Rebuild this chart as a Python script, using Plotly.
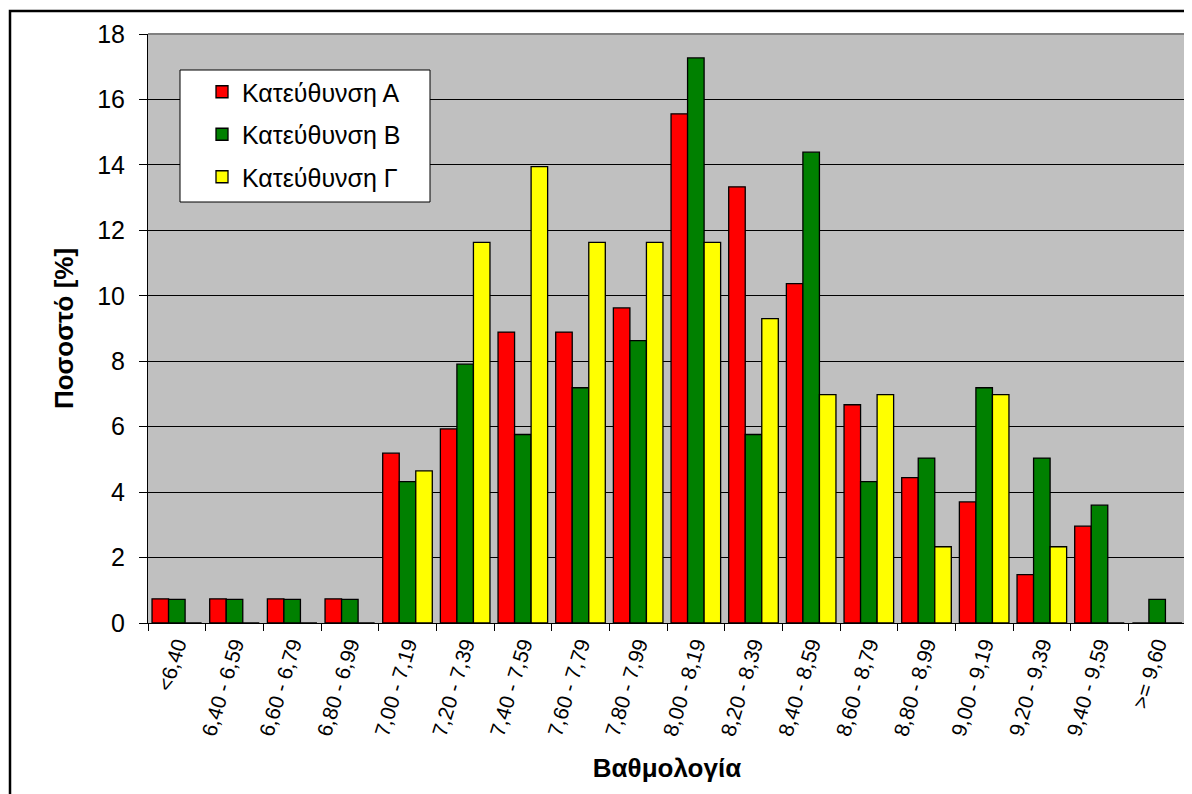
import plotly.graph_objects as go

categories = ["<6,40", "6,40 - 6,59", "6,60 - 6,79", "6,80 - 6,99", "7,00 - 7,19",
              "7,20 - 7,39", "7,40 - 7,59", "7,60 - 7,79", "7,80 - 7,99", "8,00 - 8,19",
              "8,20 - 8,39", "8,40 - 8,59", "8,60 - 8,79", "8,80 - 8,99", "9,00 - 9,19",
              "9,20 - 9,39", "9,40 - 9,59", ">= 9,60"]

series_a = [0.74, 0.74, 0.74, 0.74, 5.19, 5.93, 8.89, 8.89, 9.63, 15.56,
            13.33, 10.37, 6.67, 4.44, 3.70, 1.48, 2.96, 0]
series_b = [0.72, 0.72, 0.72, 0.72, 4.32, 7.91, 5.76, 7.19, 8.63, 17.27,
            5.76, 14.39, 4.32, 5.04, 7.19, 5.04, 3.60, 0.72]
series_c = [0, 0, 0, 0, 4.65, 11.63, 13.95, 11.63, 11.63, 11.63,
            9.30, 6.98, 6.98, 2.33, 6.98, 2.33, 0, 0]

names = ["Κατεύθυνση Α", "Κατεύθυνση Β", "Κατεύθυνση Γ"]
colors = ["#FF0000", "#008000", "#FFFF00"]
y_ticks = list(range(0, 19, 2))

FONT = "Liberation Sans, Arial, sans-serif"

# figure geometry (the page body adds an 8px offset)
W, H = 1192, 794
L, R, T, B = 140, 14, 26, 179
PW, PH = W - L - R, H - T - B


def px_to_paper_x(px):
    return (px - L) / PW


def px_to_paper_y(py):
    return (H - B - py) / PH


fig = go.Figure()
for name, vals, col in zip(names, [series_a, series_b, series_c], colors):
    fig.add_trace(go.Bar(
        x=categories, y=vals, name=name, legendgroup=name,
        marker=dict(color=col, line=dict(color="#000000", width=1.3)),
    ))

fig.update_layout(
    width=W, height=H,
    margin=dict(l=L, r=R, t=T, b=B),
    paper_bgcolor="#FFFFFF",
    plot_bgcolor="#C0C0C0",
    barmode="group",
    bargap=0.14,
    bargroupgap=0,
    font=dict(family=FONT, size=20, color="#000000"),
    showlegend=True,
    legend=dict(
        x=px_to_paper_x(194), y=px_to_paper_y(61), xanchor="left", yanchor="top",
        bgcolor="rgba(0,0,0,0)", borderwidth=0,
        font=dict(family=FONT, size=25, color="#000000"),
        traceorder="grouped", tracegroupgap=7,
    ),
    xaxis=dict(
        type="category",
        tickangle=-73,
        tickson="boundaries",
        ticks="outside", ticklen=7, tickcolor="#000000",
        showline=True, linecolor="#000000", linewidth=1,
        tickfont=dict(family=FONT, size=21, color="#000000"),
        title=dict(text="<b>Βαθμολογία</b>", font=dict(family=FONT, size=26), standoff=20),
    ),
    yaxis=dict(
        range=[0, 18],
        tickvals=y_ticks,
        ticks="outside", ticklen=8, tickcolor="#000000",
        ticklabelstandoff=9,
        showgrid=True, gridcolor="#000000", gridwidth=1,
        showline=True, linecolor="#000000", linewidth=1,
        tickfont=dict(family=FONT, size=25, color="#000000"),
        title=dict(text="<b>Ποσοστό [%]</b>", font=dict(family=FONT, size=26), standoff=16),
        zeroline=False,
    ),
    shapes=[
        dict(type="line", xref="paper", yref="paper", x0=0, x1=1, y0=1, y1=1,
             line=dict(color="#808080", width=2)),
        dict(type="line", xref="paper", yref="paper", x0=1, x1=1, y0=0, y1=1,
             line=dict(color="#808080", width=2)),
        # legend box
        dict(type="rect", xref="paper", yref="paper", layer="above",
             x0=px_to_paper_x(172), x1=px_to_paper_x(422),
             y0=px_to_paper_y(194), y1=px_to_paper_y(62),
             line=dict(color="#000000", width=1), fillcolor="#FFFFFF"),
        # outer chart border
        dict(type="rect", xref="paper", yref="paper",
             x0=px_to_paper_x(2), x1=px_to_paper_x(1210),
             y0=px_to_paper_y(810), y1=px_to_paper_y(3),
             line=dict(color="#000000", width=2.5), fillcolor="rgba(0,0,0,0)"),
    ],
)

fig.write_html("out.html")
